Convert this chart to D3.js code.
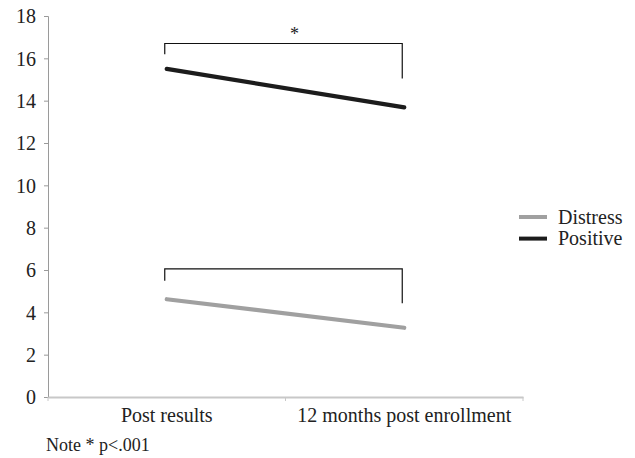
<!DOCTYPE html>
<html>
<head>
<meta charset="utf-8">
<script src="https://cdn.jsdelivr.net/npm/d3@7"></script>
<style>
  html, body { margin: 0; padding: 0; background: #fff; }
  svg text { font-family: "Liberation Serif", "DejaVu Serif", serif; fill: #222; }
</style>
</head>
<body>
<svg id="chart" width="635" height="458"></svg>
<script>
// Time points and mean scores for each scale
const timepoints = ["Post results", "12 months post enrollment"];
const distress = [4.62, 3.27];
const positive = [15.5, 13.68];
const yTicks = [0, 2, 4, 6, 8, 10, 12, 14, 16, 18];
const seriesNames = ["Distress", "Positive"];
const seriesColors = ["#a0a0a0", "#1c1c1c"];
// Significance brackets: [left end, top, right end] in score units
const bracketPositive = [16.19, 16.7, 15.05];
const bracketDistress = [5.49, 6.05, 4.43];
const noteText = "Note * p<.001";

const svg = d3.select("#chart");
const margin = { left: 48, right: 112, top: 16, bottom: 61 };
const W = 635, H = 458;

const x = d3.scaleBand().domain(timepoints).range([margin.left, W - margin.right]);
const y = d3.scaleLinear().domain([0, 18]).range([H - margin.bottom, margin.top]);
const xc = d => x(d) + x.bandwidth() / 2;

// Y axis
const yAxis = svg.append("g").attr("transform", `translate(${margin.left},0)`)
  .call(d3.axisLeft(y).tickValues(yTicks).tickSize(4).tickPadding(8).tickFormat(d3.format("d")));
yAxis.select(".domain").attr("stroke", "#9a9a9a");
yAxis.selectAll(".tick line").attr("stroke", "#9a9a9a");
yAxis.selectAll("text").style("font-size", "20px").attr("dy", "0.34em");

// X axis
const xAxis = svg.append("g").attr("transform", `translate(0,${y(0)})`)
  .call(d3.axisBottom(x).tickSize(0).tickPadding(0));
xAxis.select(".domain").attr("stroke", "#c8c8c8").attr("stroke-width", 2);
xAxis.selectAll("text").style("font-size", "20px").attr("y", 25).attr("dy", 0);
// category boundary ticks
svg.append("g").selectAll("line")
  .data([x.range()[0], x(timepoints[1]), x.range()[1]])
  .join("line")
  .attr("x1", d => d).attr("x2", d => d)
  .attr("y1", y(0)).attr("y2", y(0) + 4)
  .attr("stroke", "#c8c8c8");

// Lines
const line = d3.line().x((d, i) => xc(timepoints[i])).y(d => y(d));
[distress, positive].forEach((vals, k) => {
  svg.append("path").datum(vals)
    .attr("d", line)
    .attr("fill", "none")
    .attr("stroke", seriesColors[k])
    .attr("stroke-width", 4.2)
    .attr("stroke-linecap", "round");
});

// Brackets
function bracket(b) {
  const x0 = xc(timepoints[0]) - 2, x1 = xc(timepoints[1]) - 2;
  svg.append("path")
    .attr("d", `M${x0},${y(b[0])}V${y(b[1])}H${x1}V${y(b[2])}`)
    .attr("fill", "none").attr("stroke", "#111").attr("stroke-width", 1.2);
}
bracket(bracketPositive);
bracket(bracketDistress);
svg.append("text")
  .attr("x", (xc(timepoints[0]) + xc(timepoints[1])) / 2 + 9)
  .attr("y", y(bracketPositive[1]) - 4)
  .attr("text-anchor", "middle")
  .style("font-size", "18px")
  .text("*");

// Legend
const legend = svg.append("g").attr("transform", "translate(519,217)");
seriesNames.forEach((name, i) => {
  const g = legend.append("g").attr("transform", `translate(0,${i * 21.6})`);
  g.append("line").attr("x1", 0).attr("x2", 28).attr("y1", 0).attr("y2", 0)
    .attr("stroke", seriesColors[i]).attr("stroke-width", 4);
  g.append("text").attr("x", 39).attr("y", 6.5).style("font-size", "20px").text(name);
});

// Note
svg.append("text").attr("x", 46).attr("y", 451).style("font-size", "18px").text(noteText);
</script>
</body>
</html>
